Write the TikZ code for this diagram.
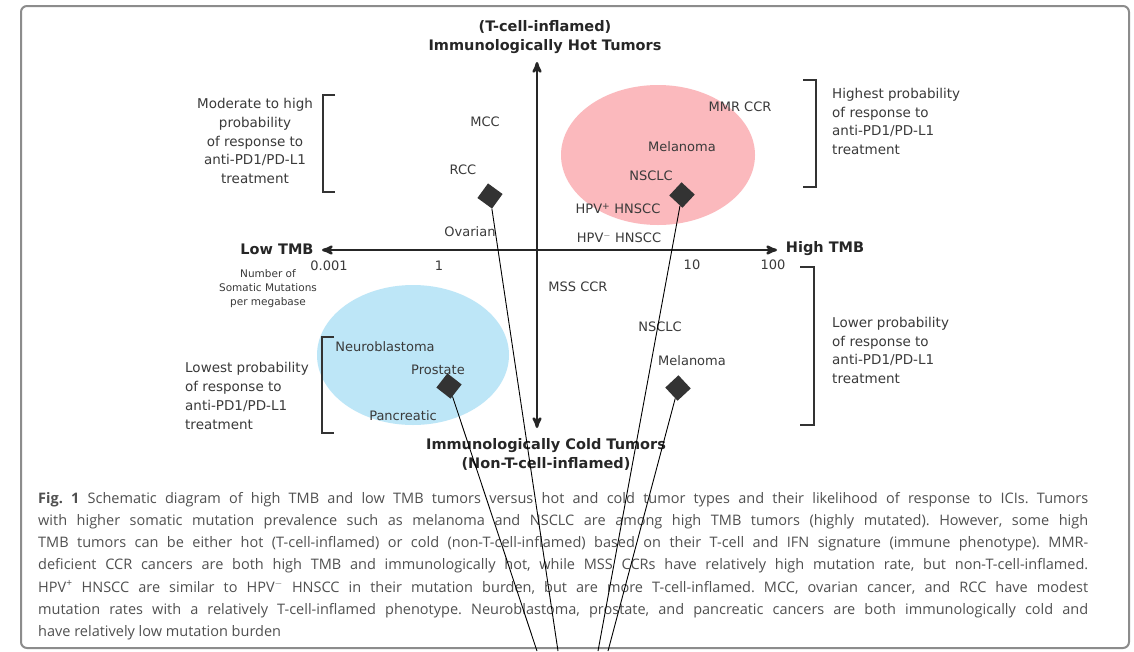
\documentclass[tikz,border=0pt]{standalone}
\usepackage{fontspec}
\setmainfont{DejaVu Sans}
\newfontfamily\capfont{Open Sans}
\usepackage{tikz}
\usetikzlibrary{arrows,shapes.geometric,positioning}
\usepackage{xcolor}
\definecolor{hotPink}{HTML}{FBB9BD}
\definecolor{coldBlue}{HTML}{BDE6F7}
\definecolor{labelGray}{HTML}{3A3A3A}
\definecolor{captionGray}{HTML}{505050}
\definecolor{frameGray}{HTML}{8C8C8C}
\tikzset{
  tumorLabel/.style = {inner sep=0pt, labelGray, font=\fontsize{13}{16}\selectfont},% type de tumeur
  axisTitle/.style = {inner sep=0pt, align=center, black!85, font=\bfseries\fontsize{14.5}{19}\selectfont},% titre des axes
  probText/.style = {inner sep=0pt, labelGray, font=\fontsize{13.5}{18.7}\selectfont},% probabilite de reponse
  noteText/.style = {inner sep=0pt, align=center, labelGray, font=\fontsize{10.5}{14.3}\selectfont},
  zone/.style = {ellipse, inner sep=0pt, minimum width=194pt, minimum height=140pt},% zone chaude / froide
  bracketLine/.style = {line width=2pt, black!80},
  axisLine/.style = {line width=2.5pt, black!85},
  markNode/.style = {rectangle, inner sep=0pt, minimum size=18pt, fill=black!80},
  pointerLine/.style = {line width=0.9pt, black},
}

\begin{document}
\begin{tikzpicture}[x=1pt, y=-1pt, >=stealth']
\useasboundingbox (0,0) rectangle (1134,651);
\fill[white] (0,0) rectangle (1134,651);
\draw[frameGray, line width=2pt, rounded corners=6pt] (21,6) rectangle (1129,648);
% zones
\node[zone, fill=hotPink] (hotZone) at (658,155) {};
\node[zone, fill=coldBlue, minimum width=192pt] (coldZone) at (413,355) {};
% axes
\coordinate (lowEnd) at (322,250);
\coordinate (highEnd) at (777,250);
\coordinate (hotEnd) at (537,62);
\coordinate (coldEnd) at (537,428);
\draw[axisLine,<->] (lowEnd) -- (highEnd);
\draw[axisLine,<->] (hotEnd) -- (coldEnd);
\node[axisTitle] (hotTitle) at (545,37.5) {(T-cell-inflamed)\\Immunologically Hot Tumors};
\node[axisTitle] (coldTitle) at (546,454.5) {Immunologically Cold Tumors\\(Non-T-cell-inflamed)};
\node[axisTitle] (lowTmb) at (277,249) {Low TMB};
\node[axisTitle] (highTmb) at (825,249) {High TMB};
\node[tumorLabel] (tickA) at (329,266) {0.001};
\node[tumorLabel] (tickB) at (439,266) {1};
\node[tumorLabel] (tickC) at (692,265) {10};
\node[tumorLabel] (tickD) at (773,265) {100};
\node[noteText] (unitNote) at (268,288.5) {Number of\\Somatic Mutations\\per megabase};
% brackets
\draw[bracketLine] (335,95) -- (323,95) -- (323,192) -- (335,192);
\draw[bracketLine] (803,80) -- (816,80) -- (816,187) -- (803,187);
\draw[bracketLine] (800,267) -- (814,267) -- (814,425) -- (800,425);
\draw[bracketLine] (334,337) -- (322,337) -- (322,433) -- (334,433);
\node[probText, align=center] (moderateText) at (255,141) {Moderate to high\\probability\\of response to\\anti-PD1/PD-L1\\treatment};
\node[probText, align=left, anchor=west] (highestText) at (832,121.5) {Highest probability\\of response to\\anti-PD1/PD-L1\\treatment};
\node[probText, align=left, anchor=west] (lowerText) at (832,350.5) {Lower probability\\of response to\\anti-PD1/PD-L1\\treatment};
\node[probText, align=left, anchor=west] (lowestText) at (185,396) {Lowest probability\\of response to\\anti-PD1/PD-L1\\treatment};
% tumeurs
\node[tumorLabel] (mcc) at (485,122) {MCC};
\node[tumorLabel] (rcc) at (463,170) {RCC};
\node[tumorLabel] (ovarian) at (470,232) {Ovarian};
\node[tumorLabel] (mmrCcr) at (740,107) {MMR CCR};
\node[tumorLabel] (melanomaHot) at (682,147) {Melanoma};
\node[tumorLabel] (nsclcHot) at (651,176) {NSCLC};
\node[tumorLabel] (hpvPos) at (618,209) {HPV\textsuperscript{+} HNSCC};
\node[tumorLabel] (hpvNeg) at (619,238) {HPV\textsuperscript{$-$} HNSCC};
\node[tumorLabel] (mssCcr) at (578,287) {MSS CCR};
\node[tumorLabel] (nsclcCold) at (660,327) {NSCLC};
\node[tumorLabel] (melanomaCold) at (692,361) {Melanoma};
\node[tumorLabel] (neuro) at (385,347) {Neuroblastoma};
\node[tumorLabel] (prostate) at (438,370) {Prostate};
\node[tumorLabel] (pancreatic) at (403,416) {Pancreatic};
% legende
\node[anchor=north west, inner sep=0pt, text width=1050pt, align=justify, captionGray,
  font=\capfont\frenchspacing\fontsize{14.5}{22.2}\selectfont] (caption) at (38,492) {\textbf{Fig.~1} Schematic diagram of high TMB and low TMB tumors versus hot and cold tumor types and their likelihood of response to ICIs. Tumors\linebreak
with higher somatic mutation prevalence such as melanoma and NSCLC are among high TMB tumors (highly mutated). However, some high\linebreak
TMB tumors can be either hot (T-cell-inflamed) or cold (non-T-cell-inflamed) based on their T-cell and IFN signature (immune phenotype). MMR-\linebreak
deficient CCR cancers are both high TMB and immunologically hot, while MSS CCRs have relatively high mutation rate, but non-T-cell-inflamed.\linebreak
HPV\textsuperscript{+} HNSCC are similar to HPV\textsuperscript{$-$} HNSCC in their mutation burden, but are more T-cell-inflamed. MCC, ovarian cancer, and RCC have modest\linebreak
mutation rates with a relatively T-cell-inflamed phenotype. Neuroblastoma, prostate, and pancreatic cancers are both immunologically cold and\linebreak
have relatively low mutation burden};
% marqueurs
\node[markNode, rotate=-36] (rccMark) at (490,196) {};
\node[markNode, rotate=-43] (nsclcMark) at (682,195) {};
\node[markNode, rotate=-38] (prostateMark) at (449,386) {};
\node[markNode, rotate=-47] (melanomaMark) at (678,388) {};
\coordinate (prostateFoot) at (537,651);
\coordinate (rccFoot) at (558,651);
\coordinate (nsclcFoot) at (598,651);
\coordinate (melanomaFoot) at (608,651);
\draw[pointerLine] (rccMark) -- (rccFoot);
\draw[pointerLine] (nsclcMark) -- (nsclcFoot);
\draw[pointerLine] (prostateMark) -- (prostateFoot);
\draw[pointerLine] (melanomaMark) -- (melanomaFoot);
\end{tikzpicture}
\end{document}
